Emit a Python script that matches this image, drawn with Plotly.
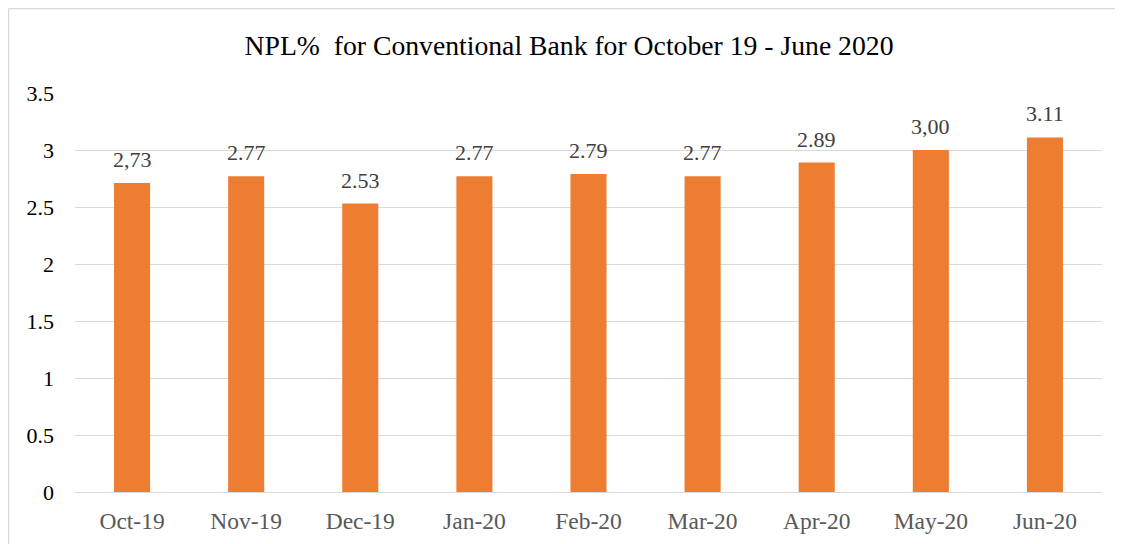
import plotly.graph_objects as go

months = ["Oct-19", "Nov-19", "Dec-19", "Jan-20", "Feb-20", "Mar-20", "Apr-20", "May-20", "Jun-20"]
npl = [2.71, 2.77, 2.53, 2.77, 2.79, 2.77, 2.89, 3.00, 3.11]
labels = ["2,73", "2.77", "2.53", "2.77", "2.79", "2.77", "2.89", "3,00", "3.11"]
yticks = [0, 0.5, 1, 1.5, 2, 2.5, 3, 3.5]
ytick_text = ["0", "0.5", "1", "1.5", "2", "2.5", "3", "3.5"]

FONT = "Liberation Serif"
OFF = 8  # page body margin offset
W, H = 1123 - OFF, 544 - OFF
L, T = 75 - OFF, 93 - OFF
R = (OFF + W) - 1102
B = (OFF + H) - 492
pw, ph = W - L - R, H - T - B

fig = go.Figure()
fig.add_trace(go.Bar(x=months, y=npl, marker=dict(color="#ED7D31", line=dict(width=0)),
                     hoverinfo="x+y"))

for m, v, t in zip(months, npl, labels):
    fig.add_annotation(x=m, y=v, text=t, showarrow=False, yanchor="bottom", yshift=9,
                       font=dict(family=FONT, size=22, color="#404040"))

bx = (0.5 - L) / pw
by_top = (H - B - 0.5) / ph
by_bot = (H - B - 600) / ph
fig.add_shape(type="line", xref="paper", yref="paper", x0=bx, x1=1.2, y0=by_top, y1=by_top,
              line=dict(color="#D9D9D9", width=1.5))
fig.add_shape(type="line", xref="paper", yref="paper", x0=bx, x1=bx, y0=by_bot, y1=by_top,
              line=dict(color="#D9D9D9", width=1.5))

fig.update_layout(
    width=W, height=H,
    margin=dict(l=L, r=R, t=T, b=B, autoexpand=False),
    paper_bgcolor="white", plot_bgcolor="white",
    font=dict(family=FONT),
    bargap=0.684,
    showlegend=False,
    title=dict(text="NPL%\u00a0 for Conventional Bank for October 19 - June 2020",
               x=(569 - OFF - L) / pw, xref="paper", xanchor="center",
               y=1 - (45 - OFF) / H, yanchor="middle", automargin=False,
               font=dict(family=FONT, size=27.7, color="#000000")),
    xaxis=dict(showgrid=False, showline=False, ticks="", automargin=False,
               tickfont=dict(family=FONT, size=23.5, color="#595959"), ticklabelstandoff=12),
    yaxis=dict(range=[0, 3.5], tickvals=yticks, ticktext=ytick_text, showgrid=True, gridcolor="#D9D9D9",
               gridwidth=1, zeroline=True, zerolinecolor="#D9D9D9", zerolinewidth=1, showline=False,
               automargin=False, ticks="", tickfont=dict(family=FONT, size=22, color="#000000"),
               ticklabelstandoff=20),
)

fig.write_html("out.html")
